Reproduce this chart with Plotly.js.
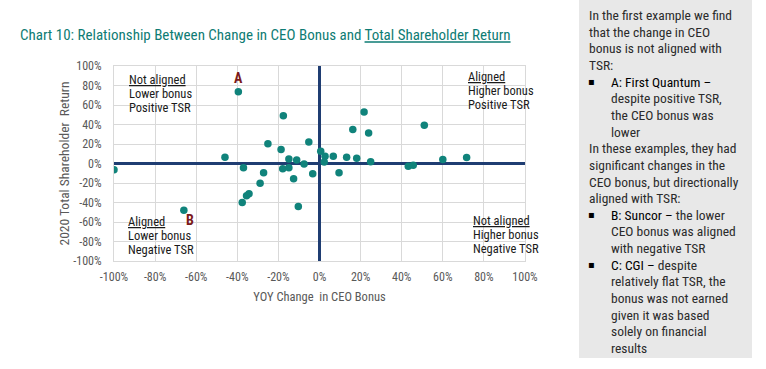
<!DOCTYPE html>
<html>
<head>
<meta charset="utf-8">
<script src="https://cdn.plot.ly/plotly-3.0.1.min.js"></script>
<style>
html,body{margin:0;padding:0;background:#fff;}
#chart{width:766px;height:369px;}
</style>
</head>
<body>
<div id="chart"></div>
<script>
// ---- data ----
const bonusChange = [-100, -66, -39.5, -46, -37, -37.6, -34.3, -35.5, -28.9, -27.2, -25.1, -18.7, -17.6, -17.9, -14.9, -14.9, -11.1, -12.6, -10.3, -7.5, -5.2, -3.3, 0.6, 2.7, 2.3, 6.7, 9.5, 13.2, 18.1, 16.2, 21.7, 23.9, 24.9, 43.2, 45.6, 51, 60, 71.6];
const tsr2020 = [-6.5, -48, 73.5, 6.5, -4.4, -40, -31, -33, -20.2, -9.4, 20.2, 14.4, 49, -5.4, 4.6, -4.4, 3.6, -15.7, -44, -0.5, 22, -10.5, 12.5, 7.4, 1.5, 7.4, -9.4, 6.5, 5.4, 34.9, 52.9, 31.4, 1.7, -2.8, -1.7, 39.3, 4.1, 6.2];
const tickVals = [-100, -80, -60, -40, -20, 0, 20, 40, 60, 80, 100];
const tickText = ['-100%', '-80%', '-60%', '-40%', '-20%', '0%', '20%', '40%', '60%', '80%', '100%'];
const pointLabels = ['A', 'B', 'C'];
const pointLabelX = [-39.3, -63.2, -100.2];
const pointLabelY = [87.5, -58, -20.8];
const quadrantLines = [
  ['<u>Not aligned</u>', 'Lower bonus', 'Positive TSR'],
  ['<u>Aligned</u>', 'Higher bonus', 'Positive TSR'],
  ['<u>Aligned</u>', 'Lower bonus', 'Negative TSR'],
  ['<u>Not aligned</u>', 'Higher bonus', 'Negative TSR']
];
const chartTitle = 'Chart 10: Relationship Between Change in CEO Bonus and <u>Total Shareholder Return</u>';
const xTitle = 'YOY Change  in CEO Bonus';
const yTitle = '2020 Total Shareholder  Return';
// side panel: [text, indent level (0 = paragraph, 1 = bullet text), bullet?]
const sideText = [
  ['In the first example we find', 0, false],
  ['that the change in CEO', 0, false],
  ['bonus is not aligned with', 0, false],
  ['TSR:', 0, false],
  ['<span style="color:#000">A: First Quantum –</span>', 1, true],
  ['despite positive TSR,', 1, false],
  ['the CEO bonus was', 1, false],
  ['lower', 1, false],
  ['In these examples, they had', 0, false],
  ['significant changes in the', 0, false],
  ['CEO bonus, but directionally', 0, false],
  ['aligned with TSR:', 0, false],
  ['<span style="color:#000">B: Suncor –</span> the lower', 1, true],
  ['CEO bonus was aligned', 1, false],
  ['with negative TSR', 1, false],
  ['<span style="color:#000">C: CGI –</span> despite', 1, true],
  ['relatively flat TSR, the', 1, false],
  ['bonus was not earned', 1, false],
  ['given it was based', 1, false],
  ['solely on financial', 1, false],
  ['results', 1, false]
];

// ---- layout helpers ----
const FONT = "'Roboto Condensed', 'Liberation Sans Narrow', 'Arial Narrow', 'DejaVu Sans Condensed', Roboto, sans-serif";
const W = 766, H = 369;
const L = 114, R = 525, T = 66, B = 261;
const px = x => (x - L) / (R - L);
const py = y => (B - y) / (B - T);

const annotations = [];
// point letters
pointLabels.forEach((t, i) => {
  annotations.push({
    x: pointLabelX[i], y: pointLabelY[i], xref: 'x', yref: 'y', text: t, showarrow: false,
    font: {family: FONT, size: 14, color: '#7B1A1A', weight: 'bold'}, xanchor: 'center', yanchor: 'middle'
  });
});
// quadrant texts (pixel anchors: left x, first line center y)
const quadPos = [[127, 79.3], [466, 76.7], [126, 221.7], [471, 220]];
quadrantLines.forEach((lines, q) => {
  lines.forEach((t, k) => {
    annotations.push({
      x: px(quadPos[q][0]), y: py(quadPos[q][1] + k * 14), xref: 'paper', yref: 'paper',
      text: t, showarrow: false, xanchor: 'left', yanchor: 'middle',
      font: {family: FONT, size: 12.5, color: '#1a1a1a'}
    });
  });
});
// side panel
sideText.forEach((row, i) => {
  const yc = 15 + i * 16.65;
  const xl = row[1] === 0 ? 587 : 609;
  annotations.push({
    x: px(xl), y: py(yc), xref: 'paper', yref: 'paper', text: row[0], showarrow: false,
    xanchor: 'left', yanchor: 'middle', font: {family: FONT, size: 13.5, color: '#2b2b2b'}
  });
  if (row[2]) {
    annotations.push({
      x: px(591), y: py(yc), xref: 'paper', yref: 'paper', text: '▪', showarrow: false,
      xanchor: 'center', yanchor: 'middle', font: {family: 'DejaVu Sans', size: 10, color: '#000'}
    });
  }
});

const trace = {
  x: bonusChange, y: tsr2020, type: 'scatter', mode: 'markers',
  marker: {color: '#10837B', size: 7.5, line: {width: 0}},
  hoverinfo: 'skip'
};

const axisCommon = {
  range: [-100, 100], tickvals: tickVals, ticktext: tickText,
  showgrid: true, gridcolor: '#D9D9D9', gridwidth: 1,
  zeroline: true, zerolinecolor: '#1F3D72', zerolinewidth: 3,
  showline: true, linecolor: '#D9D9D9', linewidth: 1, mirror: true,
  ticks: '', tickfont: {family: FONT, size: 12, color: '#595959'}, fixedrange: true
};

const layout = {
  width: W, height: H,
  margin: {l: L, r: W - R, t: T, b: H - B, pad: 0},
  paper_bgcolor: '#ffffff', plot_bgcolor: '#ffffff',
  showlegend: false,
  title: {
    text: chartTitle, xref: 'container', yref: 'container',
    x: 20 / W, xanchor: 'left', y: 1 - 35 / H, yanchor: 'middle',
    font: {family: FONT, size: 15, color: '#0E7C74'}
  },
  xaxis: Object.assign({}, axisCommon, {
    ticklabelstandoff: 5,
    title: {text: xTitle, font: {family: FONT, size: 12.5, color: '#595959'}, standoff: 8}
  }),
  yaxis: Object.assign({}, axisCommon, {
    ticklabelstandoff: 9,
    title: {text: yTitle, font: {family: FONT, size: 13.5, color: '#595959'}, standoff: 0}
  }),
  shapes: [{
    type: 'rect', xref: 'paper', yref: 'paper',
    x0: px(579), x1: px(752), y0: py(358), y1: py(-2),
    fillcolor: '#E8E8E8', line: {width: 0}, layer: 'below'
  }],
  annotations: annotations
};

Plotly.newPlot('chart', [trace], layout, {displayModeBar: false, staticPlot: true});
</script>
</body>
</html>
